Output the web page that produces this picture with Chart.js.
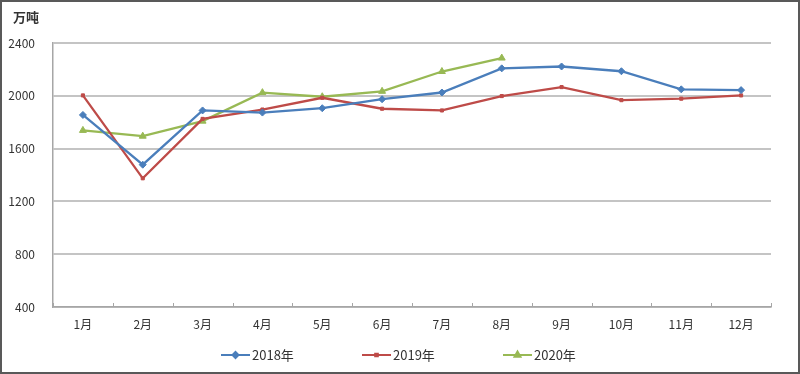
<!DOCTYPE html>
<html>
<head>
<meta charset="utf-8">
<script src="https://cdn.jsdelivr.net/npm/chart.js@4/dist/chart.umd.min.js"></script>
<style>
html,body{margin:0;padding:0;background:#fff;}
#wrap{width:800px;height:374px;box-sizing:border-box;border:2px solid #595959;background:#fff;}
#c{display:block;}
</style>
</head>
<body>
<div id="wrap"><canvas id="c" width="796" height="370"></canvas></div>
<script>
const months = ['1月','2月','3月','4月','5月','6月','7月','8月','9月','10月','11月','12月'];
const seriesNames = ['2018年','2019年','2020年'];
const values2018 = [1855, 1478, 1889, 1873, 1906, 1974, 2025, 2208, 2222, 2186, 2049, 2043];
const values2019 = [2003, 1375, 1825, 1896, 1985, 1902, 1889, 1998, 2066, 1967, 1978, 2003];
const values2020 = [1738, 1694, 1808, 2024, 1993, 2034, 2184, 2286, null, null, null, null];
const yTicks = [400, 800, 1200, 1600, 2000, 2400];
const unitLabel = '万吨';

const colors = ['#4a7ebb', '#be4b48', '#98b954'];
const pointStyles = ['rectRot', 'rect', 'triangle'];
const pointRadii = [3.5, 2.2, 4];
const FONT = "'Noto Sans CJK SC', 'Noto Sans', sans-serif";

const extras = {
  id: 'extras',
  afterDraw(chart) {
    const ctx = chart.ctx;
    const x = chart.scales.x;
    const area = chart.chartArea;
    ctx.save();
    ctx.fillStyle = '#333';
    ctx.font = "bold 13px " + FONT;
    ctx.textBaseline = 'middle';
    ctx.textAlign = 'left';
    ctx.fillText(unitLabel, 11, 15);
    ctx.strokeStyle = '#a6a6a6';
    ctx.lineWidth = 1;
    for (let i = 0; i <= months.length; i++) {
      const px = Math.round(x.getPixelForValue(i - 0.5)) + 0.5;
      ctx.beginPath();
      ctx.moveTo(px, area.bottom);
      ctx.lineTo(px, area.bottom - 4);
      ctx.stroke();
    }
    const stride = 141, lineLen = 29;
    const totalW = stride * 2 + lineLen + 47;
    const sx = Math.round(chart.width / 2 - totalW / 2);
    const ly = 353;
    chart.data.datasets.forEach((ds, i) => {
      const lx = sx + i * stride;
      ctx.strokeStyle = colors[i];
      ctx.lineWidth = 2;
      ctx.beginPath();
      ctx.moveTo(lx, ly);
      ctx.lineTo(lx + lineLen, ly);
      ctx.stroke();
      ctx.fillStyle = colors[i];
      ctx.strokeStyle = colors[i];
      Chart.helpers.drawPoint(ctx, {pointStyle: pointStyles[i], radius: pointRadii[i] * 0.85, borderWidth: 1, rotation: 0}, lx + lineLen / 2, ly);
      ctx.fillStyle = '#333';
      ctx.font = "13px " + FONT;
      ctx.textAlign = 'left';
      ctx.textBaseline = 'middle';
      ctx.fillText(ds.label, lx + lineLen + 2, ly);
    });
    ctx.restore();
  }
};

const mkDs = (label, data, i) => ({
  label, data,
  borderColor: colors[i], backgroundColor: colors[i],
  borderWidth: 2.3, tension: 0,
  pointStyle: pointStyles[i], pointRadius: pointRadii[i],
  pointBorderWidth: 1, pointBackgroundColor: colors[i], pointBorderColor: colors[i],
  spanGaps: false
});

new Chart(document.getElementById('c'), {
  type: 'line',
  data: {
    labels: months,
    datasets: [
      mkDs(seriesNames[0], values2018, 0),
      mkDs(seriesNames[1], values2019, 1),
      mkDs(seriesNames[2], values2020, 2)
    ]
  },
  options: {
    responsive: false,
    animation: false,
    layout: { padding: { left: 0, right: 27, top: 41, bottom: 35 } },
    plugins: { legend: { display: false }, title: { display: false }, tooltip: { enabled: false } },
    scales: {
      x: {
        offset: true,
        grid: { display: false, drawTicks: false },
        border: { display: true, color: '#a6a6a6', width: 1.5 },
        ticks: { color: '#333', font: { family: FONT, size: 12 }, padding: 10, maxRotation: 0 },
        afterFit(s) { s.height = 30; }
      },
      y: {
        min: 400, max: 2400,
        afterBuildTicks(s) { s.ticks = yTicks.map(v => ({ value: v })); },
        grid: { color: '#c4c4c4', lineWidth: 2, drawTicks: false },
        border: { display: true, color: '#a6a6a6', width: 1.5 },
        ticks: { color: '#333', font: { family: FONT, size: 12 }, padding: 18, callback: v => String(v) },
        afterFit(s) { s.width = 51; }
      }
    }
  },
  plugins: [extras]
});
</script>
</body>
</html>
